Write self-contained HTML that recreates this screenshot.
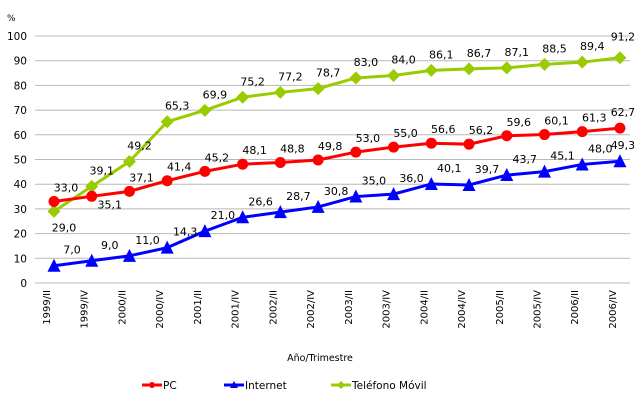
<!DOCTYPE html>
<html><head><meta charset="utf-8"><style>
html,body{margin:0;padding:0;background:#fff;}
svg{display:block;font-family:"DejaVu Sans","Liberation Sans",sans-serif;}
</style></head><body>
<svg id="c" width="643" height="402" viewBox="0 0 643 402" xmlns="http://www.w3.org/2000/svg">
<text x="7" y="21" font-size="9">%</text>
<text x="320" y="361" font-size="9.5" text-anchor="middle">Año/Trimestre</text>
</svg>
<script>
var s=document.getElementById('c'),NS='http://www.w3.org/2000/svg';
function el(t,a,txt){var e=document.createElementNS(NS,t);for(var k in a)e.setAttribute(k,a[k]);if(txt!=null)e.textContent=txt;s.appendChild(e);return e;}
function Y(v){return 283-v*2.47;}
function X(i){return 54+i*37.73;}
for(var v=0;v<=100;v+=10){el('line',{x1:35,x2:630,y1:Y(v),y2:Y(v),stroke:'#b8b8b8','stroke-width':1});el('text',{x:27,y:Y(v)+4,'font-size':10.5,'text-anchor':'end'},v);}
var cats=['1999/II','1999/IV','2000/II','2000/IV','2001/II','2001/IV','2002/II','2002/IV','2003/II','2003/IV','2004/II','2004/IV','2005/II','2005/IV','2006/II','2006/IV'];
cats.forEach(function(c,i){el('text',{x:0,y:0,'font-size':10,'text-anchor':'end',transform:'translate('+(X(i)-4)+',290) rotate(-90)'},c);});
var pc=[33.0,35.1,37.1,41.4,45.2,48.1,48.8,49.8,53.0,55.0,56.6,56.2,59.6,60.1,61.3,62.7];
var inet=[7.0,9.0,11.0,14.3,21.0,26.6,28.7,30.8,35.0,36.0,40.1,39.7,43.7,45.1,48.0,49.3];
var mov=[29.0,39.1,49.2,65.3,69.9,75.2,77.2,78.7,83.0,84.0,86.1,86.7,87.1,88.5,89.4,91.2];
function marker(type,x,y,col){
 if(type==0)el('circle',{cx:x,cy:y,r:5.5,fill:col});
 else if(type==1)el('polygon',{points:(x-6.5)+','+(y+6)+' '+(x+6.5)+','+(y+6)+' '+x+','+(y-7),fill:col});
 else el('polygon',{points:x+','+(y-6.5)+' '+(x+6.5)+','+y+' '+x+','+(y+6.5)+' '+(x-6.5)+','+y,fill:col});
}
function series(d,col,type,dx,dy,ov){
 el('polyline',{points:d.map(function(v,i){return X(i)+','+Y(v)}).join(' '),fill:'none',stroke:col,'stroke-width':3});
 d.forEach(function(v,i){marker(type,X(i),Y(v),col);});
 d.forEach(function(v,i){var ox=dx,oy=dy;if(ov&&ov[i]){ox=ov[i][0];oy=ov[i][1];}
  el('text',{x:X(i)+ox,y:Y(v)+oy,'font-size':11,'text-anchor':'middle'},v.toFixed(1).replace('.',','));});
}
series(mov,'#99cc00',2,10,-12,{0:[10,20],15:[3,-17]});
series(pc,'#ff0000',0,12,-10,{1:[18,12],15:[3,-12]});
series(inet,'#0000ff',1,18,-12,{15:[3,-12]});
function leg(x,col,type,txt){el('line',{x1:x,x2:x+20,y1:385,y2:385,stroke:col,'stroke-width':3});
 if(type==0)el('circle',{cx:x+10,cy:385,r:3,fill:col});else if(type==1)el('polygon',{points:(x+6)+',388 '+(x+14)+',388 '+(x+10)+',381',fill:col});else el('polygon',{points:(x+10)+',381 '+(x+14)+',385 '+(x+10)+',389 '+(x+6)+',385',fill:col});
 el('text',{x:x+21,y:389,'font-size':10.5},txt);}
leg(142,'#ff0000',0,'PC');leg(224,'#0000ff',1,'Internet');leg(331,'#99cc00',2,'Teléfono Móvil');
</script>
</body></html>
